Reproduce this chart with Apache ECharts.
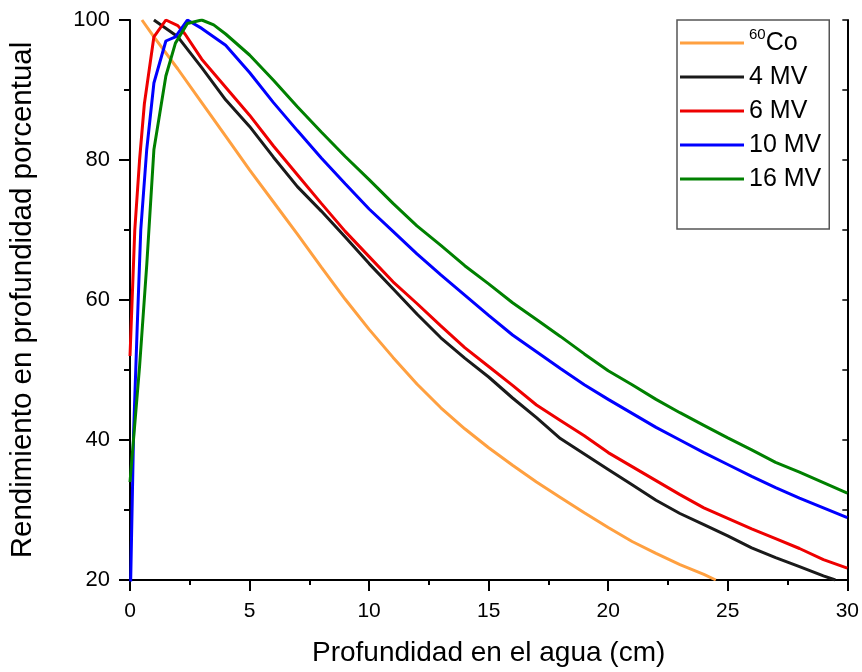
<!DOCTYPE html>
<html>
<head>
<meta charset="utf-8">
<script src="https://cdn.jsdelivr.net/npm/echarts@6/dist/echarts.min.js"></script>
<style>html,body{margin:0;padding:0;background:#fff}#c{width:862px;height:672px}</style>
</head>
<body>
<div id="c"></div>
<script>
const seriesNames = ['60Co', '4 MV', '6 MV', '10 MV', '16 MV'];
const xTicks = [0, 5, 10, 15, 20, 25, 30];
const yTicks = [20, 40, 60, 80, 100];

const co60 = [[0.5,100],[1,97.6],[2,93],[3,88.2],[4,83.4],[5,78.6],[6,74],[7,69.4],[8,64.7],[9,60.1],[10,55.8],[11,51.8],[12,48],[13,44.6],[14,41.6],[15,38.9],[16,36.4],[17,34],[18,31.8],[19,29.6],[20,27.5],[21,25.5],[22,23.8],[23,22.2],[24,20.8],[24.5,20]];
const mv4 = [[1,100],[2,97.6],[3,93.2],[4,88.6],[5,84.8],[6,80.4],[7,76.2],[8,72.7],[9,69],[10,65.2],[11,61.6],[12,58],[13,54.6],[14,51.7],[15,49],[16,46],[17,43.2],[18,40.2],[19,38],[20,35.8],[21,33.6],[22,31.4],[23,29.5],[24,27.9],[25,26.3],[26,24.6],[27,23.2],[28,21.9],[29,20.6],[29.5,20]];
const mv6 = [[0,52],[0.2,70],[0.4,80],[0.6,88],[1,97.6],[1.5,100],[2,99.2],[2.3,98],[3,94.4],[4,90.4],[5,86.4],[6,82],[7,77.9],[8,73.8],[9,69.8],[10,66.2],[11,62.6],[12,59.5],[13,56.3],[14,53.2],[15,50.5],[16,47.8],[17,45],[18,42.8],[19,40.6],[20,38.2],[21,36.2],[22,34.2],[23,32.2],[24,30.3],[25,28.8],[26,27.3],[27,25.9],[28,24.5],[29,22.9],[30,21.7]];
const mv10 = [[0,15],[0.15,41],[0.3,56],[0.45,70],[0.7,81.5],[1,91],[1.5,97],[1.9,97.6],[2.4,100],[3,98.8],[4,96.4],[5,92.5],[6,88.2],[7,84.2],[8,80.3],[9,76.6],[10,73],[11,69.8],[12,66.6],[13,63.6],[14,60.7],[15,57.8],[16,55],[17,52.6],[18,50.2],[19,47.9],[20,45.8],[21,43.8],[22,41.8],[23,40],[24,38.2],[25,36.5],[26,34.8],[27,33.2],[28,31.7],[29,30.3],[30,28.9]];
const mv16 = [[0,34],[0.4,50.5],[0.7,65],[1,81.5],[1.5,92],[1.9,96.7],[2.4,99.5],[3,100],[3.5,99.3],[4,98],[5,95],[6,91.4],[7,87.6],[8,84],[9,80.5],[10,77.2],[11,73.8],[12,70.6],[13,67.8],[14,64.9],[15,62.3],[16,59.6],[17,57.2],[18,54.8],[19,52.3],[20,49.9],[21,47.9],[22,45.8],[23,43.9],[24,42.1],[25,40.3],[26,38.6],[27,36.8],[28,35.4],[29,33.9],[30,32.4]];

const allData = [co60, mv4, mv6, mv10, mv16];
const colors = ['#ffa040', '#1a1a1a', '#ee0000', '#0000ff', '#008000'];

const chart = echarts.init(document.getElementById('c'), null, {renderer: 'canvas'});
const sans = '"Liberation Sans", Arial, sans-serif';

chart.setOption({
  animation: false,
  backgroundColor: '#fff',
  grid: {left: 130, right: 12, top: 20, bottom: 90, containLabel: false},
  legend: {
    orient: 'vertical',
    left: 677, top: 20,
    padding: [6, 8, 33, 3],
    itemGap: 0,
    itemWidth: 64,
    itemHeight: 3,
    icon: 'rect',
    borderColor: '#555',
    borderWidth: 1.5,
    data: seriesNames,
    textStyle: {
      fontFamily: sans, fontSize: 25, color: '#000', lineHeight: 34,
      rich: {
        sup: {fontFamily: sans, fontSize: 15, color: '#000', padding: [0, 0, 16, 0]},
        base: {fontFamily: sans, fontSize: 25, color: '#000'}
      }
    },
    formatter: function (n) { return n === '60Co' ? '{sup|60}{base|Co}' : n; }
  },
  xAxis: {
    type: 'value', min: 0, max: 30, interval: 5,
    name: 'Profundidad en el agua (cm)', nameLocation: 'middle', nameGap: 59,
    nameTextStyle: {fontFamily: sans, fontSize: 28, color: '#000'},
    axisLine: {show: true, onZero: false, lineStyle: {color: '#000', width: 2}},
    axisTick: {show: true, inside: false, length: 11, lineStyle: {color: '#000', width: 2}},
    minorTick: {show: true, splitNumber: 2, length: 5, lineStyle: {color: '#000', width: 2}},
    splitLine: {show: false},
    axisLabel: {fontFamily: sans, fontSize: 21, color: '#000', margin: 21,
      formatter: v => xTicks.includes(v) ? String(v) : ''}
  },
  yAxis: [{
    type: 'value', min: 20, max: 100, interval: 20, position: 'left',
    name: 'Rendimiento en profundidad porcentual', nameLocation: 'middle', nameGap: 92,
    nameTextStyle: {fontFamily: sans, fontSize: 29.5, color: '#000'},
    axisLine: {show: true, onZero: false, lineStyle: {color: '#000', width: 2}},
    axisTick: {show: true, inside: false, length: 11, lineStyle: {color: '#000', width: 2}},
    minorTick: {show: true, splitNumber: 2, length: 6, lineStyle: {color: '#000', width: 2}},
    splitLine: {show: false},
    axisLabel: {fontFamily: sans, fontSize: 22, color: '#000', margin: 20,
      formatter: v => yTicks.includes(v) ? String(v) : ''}
  }, {
    type: 'value', min: 20, max: 100, interval: 20, position: 'right',
    axisLine: {show: true, onZero: false, lineStyle: {color: '#000', width: 2}},
    axisTick: {show: true, inside: true, length: 5, lineStyle: {color: '#000', width: 1.5}},
    minorTick: {show: true, splitNumber: 2, length: 5, lineStyle: {color: '#000', width: 1.5}},
    splitLine: {show: false},
    axisLabel: {show: false}
  }],
  series: seriesNames.map((n, i) => ({
    name: n, type: 'line', data: allData[i], symbol: 'none', showSymbol: false,
    clip: true, yAxisIndex: 0, z: 2 + i,
    lineStyle: {color: colors[i], width: 3},
    itemStyle: {color: colors[i]}
  }))
});
</script>
</body>
</html>
